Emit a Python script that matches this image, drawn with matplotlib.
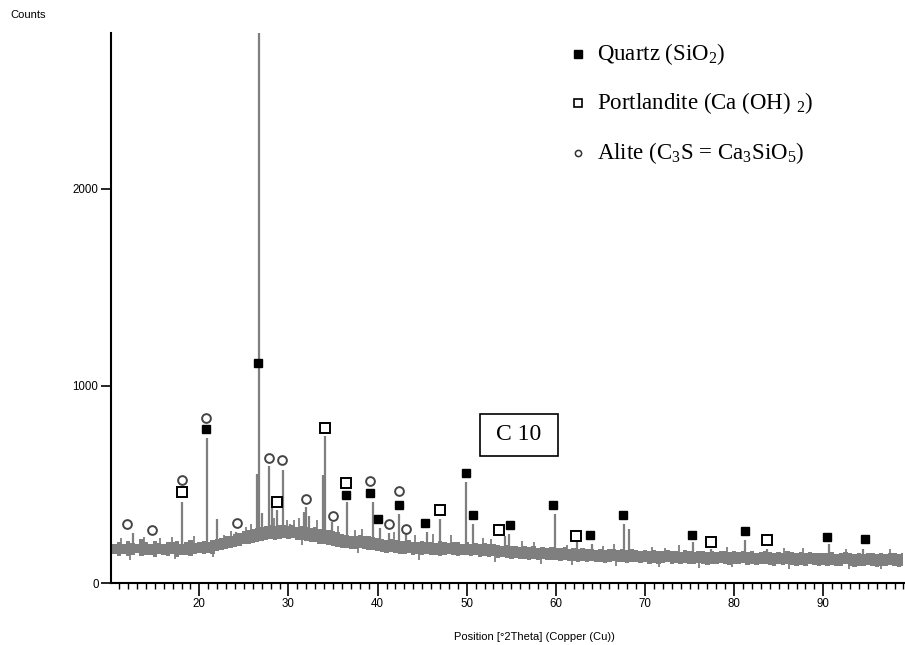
import matplotlib
matplotlib.use("Agg")
import matplotlib.pyplot as plt
from matplotlib.ticker import MultipleLocator, FixedLocator
from matplotlib.patches import Rectangle
from matplotlib.lines import Line2D

plt.rcParams['font.family'] = ['Liberation Sans', 'DejaVu Sans']
plt.rcParams['mathtext.fontset'] = 'custom'
plt.rcParams['mathtext.rm'] = 'Liberation Serif'
plt.rcParams['mathtext.it'] = 'Liberation Serif:italic'
plt.rcParams['mathtext.bf'] = 'Liberation Serif:bold'

# ---- background noise band (2theta every 0.5 deg, upper / lower envelope, counts)
band_x = [10 + 0.5 * i for i in range(179)]
band_hi = [205, 198, 210, 200, 215, 205, 200, 222, 208, 200, 212, 204, 198, 210, 206, 214, 200, 208, 216, 205,
           210, 215, 206, 218, 222, 230, 240, 236, 248, 255, 262, 270, 272, 280, 285, 290, 295, 288, 296, 292,
           290, 294, 286, 290, 282, 280, 284, 276, 272, 270, 262, 258, 250, 246, 240, 236, 244, 240, 236, 232,
           226, 222, 218, 224, 216, 214, 212, 218, 210, 208, 214, 206, 210, 204, 212, 208, 202, 210, 206, 200,
           206, 200, 204, 198, 202, 196, 200, 194, 190, 194, 186, 190, 184, 188, 182, 186, 180, 184, 178, 182,
           180, 176, 182, 174, 178, 172, 176, 170, 174, 168, 172, 166, 170, 174, 168, 172, 166, 170, 168, 164,
           168, 162, 166, 160, 164, 168, 160, 164, 158, 166, 162, 158, 164, 160, 156, 162, 158, 164, 160, 156,
           162, 158, 164, 156, 160, 154, 158, 162, 156, 152, 158, 154, 160, 156, 150, 156, 152, 158, 154, 150,
           154, 150, 156, 148, 152, 158, 150, 146, 152, 148, 154, 150, 146, 152, 148, 154, 150, 146, 150]
band_lo = [140, 148, 135, 145, 138, 142, 150, 136, 144, 140, 134, 146, 140, 138, 145, 132, 142, 140, 136, 146,
           150, 146, 152, 148, 160, 165, 172, 178, 182, 190, 196, 200, 205, 210, 214, 220, 224, 218, 222, 226,
           222, 226, 220, 218, 214, 210, 206, 200, 196, 194, 186, 184, 178, 176, 174, 170, 178, 172, 166, 168,
           160, 156, 150, 158, 152, 148, 146, 150, 144, 148, 142, 146, 140, 144, 138, 142, 146, 140, 136, 142,
           140, 136, 142, 134, 138, 132, 136, 128, 130, 126, 124, 128, 120, 124, 118, 122, 116, 120, 116, 118,
           116, 112, 118, 110, 114, 108, 112, 106, 110, 104, 108, 102, 106, 110, 104, 108, 102, 106, 104, 100,
           104, 98, 102, 96, 100, 104, 96, 100, 94, 102, 98, 94, 100, 96, 92, 98, 94, 100, 96, 92,
           98, 94, 100, 92, 96, 90, 94, 98, 92, 88, 94, 90, 96, 92, 86, 92, 88, 94, 90, 86,
           90, 86, 92, 84, 88, 94, 86, 82, 88, 84, 90, 86, 82, 88, 84, 90, 86, 82, 86]

# ---- small noise spikes sticking out of the band (position, low end, high end)
spike_x = [11.2, 12.2, 13.8, 15.6, 16.9, 17.3, 19.4, 21.5, 22.8, 23.6, 25.2, 25.8, 28.4, 29.8,
           30.6, 31.2, 31.5, 33.2, 35.6, 37.5, 37.8, 38.3, 41.8, 44.2, 44.6, 46.2, 48.2, 51.8,
           52.7, 53.2, 56.2, 57.5, 58.3, 61.3, 61.8, 65.3, 66.5, 66.8, 70.8, 71.6, 72.3, 73.8,
           76.1, 79.2, 79.8, 85.6, 86.2, 87.7, 92.5, 92.9, 96.5, 97.5]
spike_lo = [170, 118, 170, 170, 172, 120, 175, 130, 185, 200, 215, 225, 240, 245,
            245, 245, 195, 235, 215, 195, 150, 200, 180, 175, 118, 170, 170, 160,
            160, 108, 150, 145, 95, 140, 92, 135, 135, 85, 132, 80, 132, 132,
            78, 130, 80, 125, 72, 125, 120, 70, 70, 120]
spike_hi = [230, 175, 232, 228, 235, 175, 238, 180, 245, 262, 285, 300, 330, 320,
            318, 330, 250, 320, 290, 270, 210, 275, 260, 245, 175, 250, 245, 230,
            225, 165, 215, 210, 150, 195, 140, 190, 200, 140, 185, 135, 180, 195,
            130, 185, 130, 180, 125, 178, 175, 125, 125, 172]

# ---- diffraction peaks (position, top, base)
peak_x = [12.6, 18.05, 20.86, 22.0, 24.1, 26.45, 26.65, 27.0, 27.84, 28.1, 28.67, 29.4, 30.15,
          31.7, 32.0, 32.3, 33.9, 34.1, 34.85, 36.6, 39.45, 40.24, 41.25, 42.4, 43.15, 45.5,
          47.03, 49.94, 50.73, 54.3, 54.7, 59.95, 62.4, 64.0, 67.6, 68.15, 75.43, 77.4, 81.2,
          83.7, 90.6, 94.5]
peak_top = [252, 411, 737, 323, 259, 551, 2900, 353, 593, 420, 369, 571, 301,
            360, 385, 340, 546, 745, 309, 411, 411, 277, 252, 352, 252, 259,
            327, 512, 301, 240, 250, 352, 216, 200, 301, 276, 208, 174, 216,
            174, 200, 174]
peak_base = [160, 160, 160, 165, 190, 225, 225, 230, 230, 230, 230, 230, 230,
             225, 225, 225, 215, 215, 210, 190, 175, 165, 160, 160, 155, 150,
             150, 145, 145, 135, 135, 125, 115, 112, 110, 110, 105, 100, 100,
             98, 92, 90]

# ---- phase markers
quartz_x = [20.75, 26.57, 36.4, 39.2, 40.05, 42.4, 45.35, 49.94, 50.73, 54.8, 59.72, 63.8,
            67.5, 75.3, 81.2, 90.4, 94.7]
quartz_y = [779, 1114, 447, 456, 327, 397, 304, 560, 347, 296, 397, 245, 347, 245, 264, 233, 223]
port_x = [18.0, 28.67, 34.05, 36.4, 46.95, 53.67, 62.3, 77.4, 83.65]
port_y = [462, 411, 788, 508, 372, 271, 238, 208, 220]
alite_x = [11.9, 14.7, 18.0, 20.75, 24.2, 27.8, 29.3, 32.0, 35.0, 39.1, 41.25, 42.35, 43.15]
alite_y = [298, 267, 521, 837, 306, 634, 622, 428, 338, 518, 298, 468, 276]

legend_labels = ["Quartz (SiO$_2$)", "Portlandite (Ca (OH) $_2$)", "Alite (C$_3$S = Ca$_3$SiO$_5$)"]
y_ticks = [0, 1000, 2000]
y_ticklabels = ["0", "1000", "2000"]
x_ticks = [20, 30, 40, 50, 60, 70, 80, 90]
sample_label = "C 10"

W, H = 905, 645
fig = plt.figure(figsize=(W / 100, H / 100), dpi=100)
ax = fig.add_axes([111 / W, 1 - 583 / H, (W - 111) / W, (583 - 33) / H])

grey = '#7f7f7f'
ax.fill_between(band_x, band_lo, band_hi, step='mid', color=grey, lw=0)
ax.vlines(spike_x, spike_lo, spike_hi, color=grey, lw=1.3)
ax.vlines(peak_x, peak_base, peak_top, color=grey, lw=1.6)

ax.plot(quartz_x, quartz_y, ls='none', marker='s', ms=5.6, mfc='black', mec='black', clip_on=False)
ax.plot(port_x, port_y, ls='none', marker='s', ms=7, mfc='white', mec='black', mew=1.4, clip_on=False)
ax.plot(alite_x, alite_y, ls='none', marker='o', ms=6.3, mfc='none', mec='#444444', mew=1.4, clip_on=False)

ax.set_xlim(10.09, 99.17)
ax.set_ylim(0, 2790)
for s in ['top', 'right']:
    ax.spines[s].set_visible(False)
for s in ['left', 'bottom']:
    ax.spines[s].set_linewidth(1.5)

ax.xaxis.set_major_locator(FixedLocator(x_ticks))
ax.xaxis.set_minor_locator(MultipleLocator(1))
ax.yaxis.set_major_locator(FixedLocator(y_ticks))
ax.set_yticklabels(y_ticklabels)
ax.tick_params(axis='x', which='major', direction='out', length=9, width=1.2, labelsize=8.3, pad=2)
ax.tick_params(axis='x', which='minor', direction='out', length=4, width=1.0)
ax.tick_params(axis='y', which='major', direction='out', length=7, width=1.2, labelsize=8.3, pad=2)

ax.set_xlabel("Position [°2Theta] (Copper (Cu))", fontsize=8)
ax.xaxis.set_label_coords((534 - 111) / (W - 111), (583 - 637) / (583 - 33))
ax.xaxis.label.set_va('center')

fig.text(10 / W, 1 - 15 / H, "Counts", fontsize=8, va='center', ha='left')

# sample label box
fig.add_artist(Rectangle((480 / W, 1 - 456 / H), 78 / W, 42 / H, transform=fig.transFigure,
                         fill=False, ec='black', lw=1.2))
fig.text(519 / W, 1 - 435 / H, sample_label, family='Liberation Serif', fontsize=17,
         ha='center', va='center')

# legend (manual)
leg_y = [54, 103, 153]
leg_styles = [dict(marker='s', ms=5.5, mfc='black', mec='black'),
              dict(marker='s', ms=6, mfc='white', mec='black', mew=1.2),
              dict(marker='o', ms=4.5, mfc='white', mec='#333333', mew=1.1)]
for yy, lab, st in zip(leg_y, legend_labels, leg_styles):
    fig.add_artist(Line2D([578 / W], [1 - yy / H], transform=fig.transFigure, ls='none', **st))
    fig.text(597 / W, 1 - yy / H, lab, family='Liberation Serif', fontsize=16.5,
             ha='left', va='center')

fig.savefig("out.png", dpi=100)
